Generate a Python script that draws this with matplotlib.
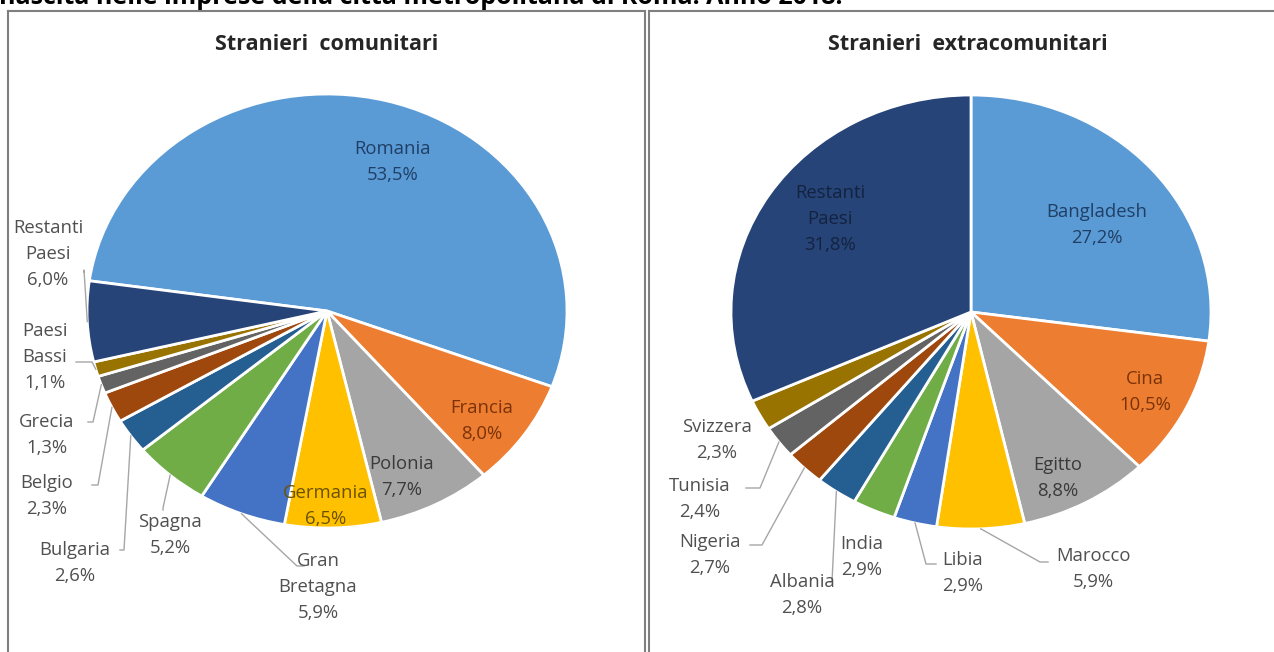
import matplotlib.pyplot as plt
import numpy as np

W, H = 1274, 652
plt.rcParams['font.family'] = ['Open Sans', 'DejaVu Sans']

# Stranieri comunitari
eu_paesi = ['Romania', 'Francia', 'Polonia', 'Germania', 'Gran\nBretagna', 'Spagna',
            'Bulgaria', 'Belgio', 'Grecia', 'Paesi\nBassi', 'Restanti\nPaesi']
eu_quote = [53.5, 8.0, 7.7, 6.5, 5.9, 5.2, 2.6, 2.3, 1.3, 1.1, 6.0]

# Stranieri extracomunitari
extra_paesi = ['Bangladesh', 'Cina', 'Egitto', 'Marocco', 'Libia', 'India',
               'Albania', 'Nigeria', 'Tunisia', 'Svizzera', 'Restanti\nPaesi']
extra_quote = [27.2, 10.5, 8.8, 5.9, 2.9, 2.9, 2.8, 2.7, 2.4, 2.3, 31.8]

colori = ['#5B9BD5', '#ED7D31', '#A5A5A5', '#FFC000', '#4472C4', '#70AD47',
          '#255E91', '#9E480E', '#636363', '#997300', '#264478']
scuri = ['#1F3F66', '#7A3308', '#3A3A3A', '#6B5200', '#4D4D4D', '#4D4D4D',
         '#4D4D4D', '#4D4D4D', '#4D4D4D', '#4D4D4D', '#13233F']
grigio = '#505050'

# label placement (pixels) and leader lines: (elbow, end) or None
eu_pos = [(393, 162), (482, 421), (402, 477), (326, 506), (318, 587), (170, 535),
          (75, 563), (47, 496), (47, 435), (45, 357), (48, 254)]
eu_lead = [None, None, None, None, ((297, 566), (304, 566)), ((163, 508), (163, 510)),
           ((124, 550), (120, 550)), ((98, 485), (92, 485)), ((93, 422), (88, 422)),
           ((92, 362), (76, 362)), ((84, 270), (84, 272))]
eu_inside = [True, True, True, True] + [False] * 7

extra_pos = [(1097, 225), (1145, 392), (1058, 478), (1093, 569), (963, 573), (862, 557),
             (802, 595), (710, 555), (700, 499), (717, 440), (830, 219)]
extra_lead = [None, None, None, ((1040, 562), (1048, 562)), ((926, 564), (936, 564)), None,
              ((832, 582), (830, 582)), ((762, 545), (750, 545)), ((760, 488), (746, 488)),
              None, None]
extra_inside = [True, True, True] + [False] * 7 + [True]

fig = plt.figure(figsize=(W / 100, H / 100), dpi=100)

ov = fig.add_axes([0, 0, 1, 1], zorder=5)
ov.set_xlim(0, W)
ov.set_ylim(H, 0)
ov.axis('off')


def draw_pie(quote, paesi, cx, cy, rx, ry, start, pos, lead, inside):
    ax = fig.add_axes([(cx - rx) / W, (H - cy - ry) / H, 2 * rx / W, 2 * ry / H])
    wedges, _ = ax.pie(quote, colors=colori, startangle=start, counterclock=False,
                       wedgeprops=dict(edgecolor='white', linewidth=2))
    ax.set_aspect('auto')
    ax.set_xlim(-1, 1)
    ax.set_ylim(-1, 1)
    for i, w in enumerate(wedges):
        testo = paesi[i] + '\n' + f'{quote[i]:.1f}%'.replace('.', ',')
        col = scuri[i] if inside[i] else grigio
        ov.text(pos[i][0], pos[i][1], testo, ha='center', va='center', fontsize=13.3,
                color=col, linespacing=1.55)
        if lead[i] is not None:
            mid = np.deg2rad((w.theta1 + w.theta2) / 2)
            p = ax.transData.transform((np.cos(mid), np.sin(mid)))
            sx, sy = ov.transData.inverted().transform(p)
            (ex, ey), (fx, fy) = lead[i]
            ov.plot([sx, ex, fx], [sy, ey, fy], color='#A6A6A6', lw=1)


draw_pie(eu_quote, eu_paesi, 327, 311, 240, 217, 172, eu_pos, eu_lead, eu_inside)
draw_pie(extra_quote, extra_paesi, 971, 312, 240, 217, 90, extra_pos, extra_lead, extra_inside)

# titles and frames
ov.text(-1, -3, 'nascita nelle imprese della città metropolitana di Roma. Anno 2018.',
        ha='left', va='center', fontsize=18, fontweight='bold', color='black')
ov.text(327, 45, 'Stranieri  comunitari', ha='center', va='center', fontsize=15.5,
        fontweight='bold', color='#262626')
ov.text(968, 45, 'Stranieri  extracomunitari', ha='center', va='center', fontsize=15.5,
        fontweight='bold', color='#262626')
for xs, ys in [([8, 8], [11, H]), ([8, 645], [11, 11]), ([645, 645], [11, H]),
               ([649, 649], [11, H]), ([649, W], [11, 11])]:
    ov.plot(xs, ys, color='#7F7F7F', lw=1.5)

fig.savefig('out.png', dpi=100)
